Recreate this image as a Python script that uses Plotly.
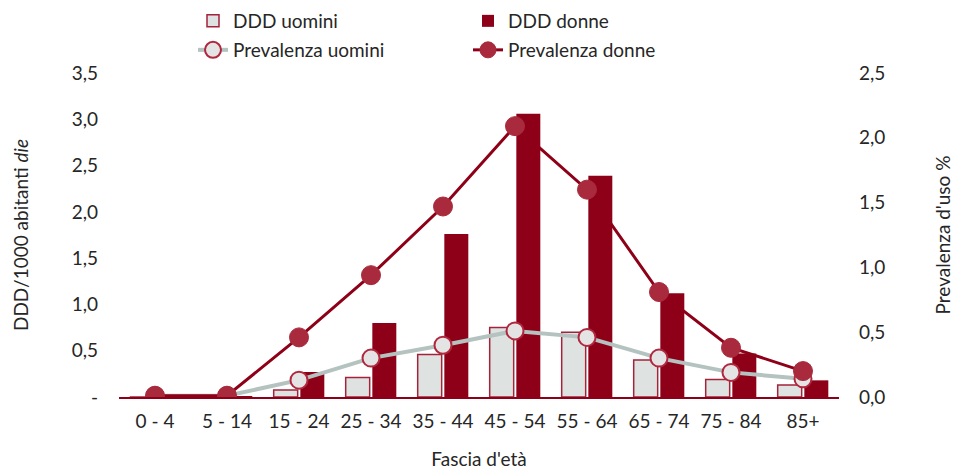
import plotly.graph_objects as go

categories = ["0 - 4", "5 - 14", "15 - 24", "25 - 34", "35 - 44", "45 - 54",
              "55 - 64", "65 - 74", "75 - 84", "85+"]
ddd_uomini = [0.00, 0.00, 0.075, 0.21, 0.46, 0.75, 0.70, 0.40, 0.19, 0.13]
ddd_donne = [0.02, 0.01, 0.27, 0.80, 1.76, 3.06, 2.39, 1.12, 0.47, 0.18]
prev_uomini = [0.01, 0.01, 0.13, 0.30, 0.40, 0.51, 0.46, 0.30, 0.19, 0.14]
prev_donne = [0.01, 0.01, 0.46, 0.94, 1.47, 2.09, 1.60, 0.81, 0.38, 0.20]

left_tickvals = [0, 0.5, 1.0, 1.5, 2.0, 2.5, 3.0, 3.5]
left_ticktext = ["-", "0,5", "1,0", "1,5", "2,0", "2,5", "3,0", "3,5"]
right_tickvals = [0, 0.5, 1.0, 1.5, 2.0, 2.5]
right_ticktext = ["0,0", "0,5", "1,0", "1,5", "2,0", "2,5"]

DARK_RED = "#8E0018"
MARK_RED = "#A82A3C"
LIGHT = "#DEE3E2"
GREY_LINE = "#B4C3C0"
TXT = "#262626"
FONT = "Lato"
FS = 19

fig = go.Figure()
fig.add_trace(go.Bar(
    x=categories, y=ddd_uomini, name="DDD uomini",
    marker=dict(color=LIGHT, line=dict(color="#A3233A", width=1.5)),
    yaxis="y", legend="legend"))
fig.add_trace(go.Bar(
    x=categories, y=ddd_donne, name="DDD donne",
    marker=dict(color=DARK_RED, line=dict(width=0)),
    yaxis="y", legend="legend"))
fig.add_trace(go.Scatter(
    x=categories, y=prev_uomini, name="Prevalenza uomini", mode="lines+markers",
    line=dict(color=GREY_LINE, width=4),
    marker=dict(size=17, color="#E4E4E4", line=dict(color="#B0283E", width=2)),
    yaxis="y2", legend="legend2"))
fig.add_trace(go.Scatter(
    x=categories, y=prev_donne, name="Prevalenza donne", mode="lines+markers",
    line=dict(color=DARK_RED, width=3),
    marker=dict(size=19, color=MARK_RED, line=dict(color=MARK_RED, width=1)),
    yaxis="y2", legend="legend2"))

# page body has an 8px margin: figure is 8px smaller and all offsets shift by 8
fig.update_layout(
    width=951, height=466,
    margin=dict(l=111, r=120, t=65, b=77, autoexpand=False),
    paper_bgcolor="white", plot_bgcolor="white",
    font=dict(family=FONT, size=FS, color=TXT),
    barmode="group", bargap=0.26, bargroupgap=0.1,
    xaxis=dict(
        range=[-0.5, len(categories) - 0.5],
        showline=True, linecolor=DARK_RED, linewidth=2, ticks="",
        showgrid=False, zeroline=False, automargin=False,
        ticklabelstandoff=6,
        title=dict(text="Fascia d'età", font=dict(size=FS), standoff=22),
        tickfont=dict(size=FS)),
    yaxis=dict(
        range=[0, 3.5], tickvals=left_tickvals, ticktext=left_ticktext,
        showgrid=False, zeroline=False, showline=False, ticks="",
        ticklabelstandoff=20, automargin=False,
        title=dict(text="DDD/1000 abitanti <i>die</i>", font=dict(size=FS), standoff=37)),
    yaxis2=dict(
        range=[0, 2.5], tickvals=right_tickvals, ticktext=right_ticktext,
        overlaying="y", side="right",
        showgrid=False, zeroline=False, showline=False, ticks="",
        ticklabelstandoff=19, automargin=False,
        title=dict(text="Prevalenza d'uso %", font=dict(size=FS), standoff=52)),
    legend=dict(orientation="h", x=185 / 951, y=1 - 13 / 466, xref="container", yref="container",
                yanchor="middle", entrywidth=230, entrywidthmode="pixels",
                font=dict(size=FS), bgcolor="rgba(0,0,0,0)", traceorder="normal"),
    legend2=dict(orientation="h", x=185 / 951, y=1 - 42 / 466, xref="container", yref="container",
                 yanchor="middle", entrywidth=230, entrywidthmode="pixels",
                 font=dict(size=FS), bgcolor="rgba(0,0,0,0)", traceorder="normal"),
)

fig.write_html("out.html")
